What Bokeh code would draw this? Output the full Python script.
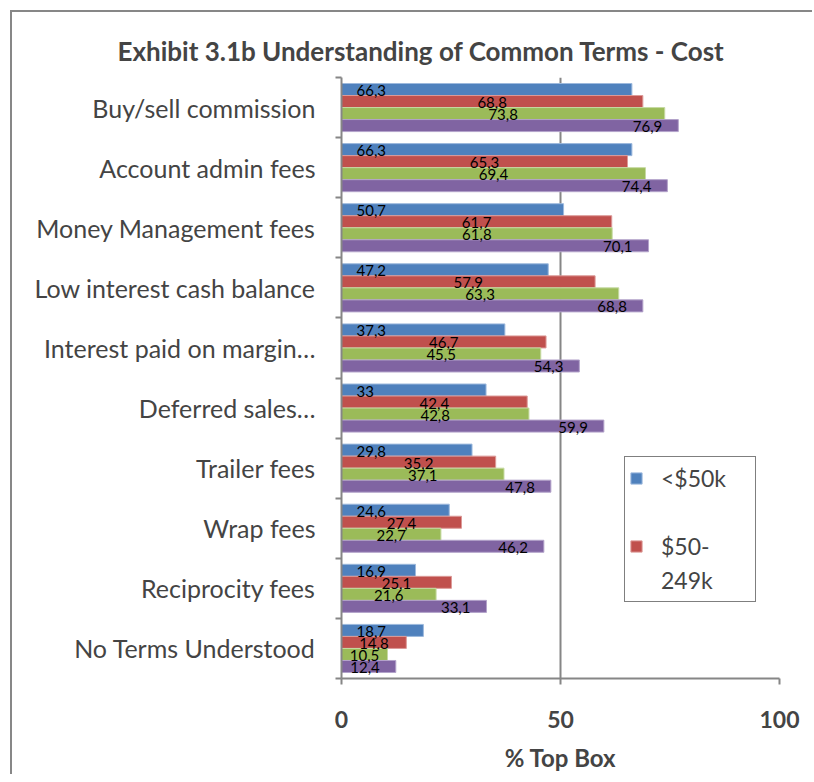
from bokeh.plotting import figure
from bokeh.models import ColumnDataSource, FixedTicker, Legend, LegendItem, LabelSet, Range1d
from bokeh.core.properties import value
from bokeh.embed import file_html
from bokeh.resources import INLINE

categories = ["Buy/sell commission", "Account admin fees", "Money Management fees",
              "Low interest cash balance", "Interest paid on margin…", "Deferred sales…",
              "Trailer fees", "Wrap fees", "Reciprocity fees", "No Terms Understood"]
series_names = ["<$50k", "$50-", "249k"]  # legend text as shown (wrapped, clipped legend)
s1 = [66.3, 66.3, 50.7, 47.2, 37.3, 33, 29.8, 24.6, 16.9, 18.7]
s2 = [68.8, 65.3, 61.7, 57.9, 46.7, 42.4, 35.2, 27.4, 25.1, 14.8]
s3 = [73.8, 69.4, 61.8, 63.3, 45.5, 42.8, 37.1, 22.7, 21.6, 10.5]
s4 = [76.9, 74.4, 70.1, 68.8, 54.3, 59.9, 47.8, 46.2, 33.1, 12.4]
x_ticks = [0, 50, 100]

colors = ["#4F81BD", "#C0504D", "#9BBB59", "#8064A2"]
edges = ["#9DB9DD", "#DC9A98", "#C6DAA2", "#B3A3CA"]
FONT = "Lato"
GRAY = "#868686"

n = len(categories)
centers = [n - i - 0.5 for i in range(n)]
bounds = list(range(n + 1))

p = figure(width=812, height=774, output_backend="svg", toolbar_location=None,
           x_range=Range1d(0, 100), y_range=Range1d(0, n),
           min_border_left=341, min_border_right=33, min_border_top=77, min_border_bottom=94)
p.outline_line_color = None
p.background_fill_color = "white"
p.border_fill_color = None
# outer chart-area frame: only its top and left edges are visible in the picture
p.styles = {"vertical-align": "top",
            "background":
            "linear-gradient(#878787, #878787) 10px 10px / 802px 2px no-repeat, "
            "linear-gradient(#878787, #878787) 10px 10px / 2px 764px no-repeat, white"}

p.title.text = "Exhibit 3.1b  Understanding of Common Terms - Cost"
p.title.text_font = FONT
p.title.text_font_size = "26px"
p.title.text_font_style = "bold"
p.title.align = "left"
p.title.offset = -224
p.title.standoff = 22

series = [s1, s2, s3, s4]
renderers = []
for j, vals in enumerate(series):
    ys = [c + 0.3 - 0.2 * j for c in centers]
    if j == 0:
        lx = [0 for v in vals]; align = "left"; xo = 15
    elif j == 3:
        lx = list(vals); align = "right"; xo = -16
    else:
        lx = [v / 2 for v in vals]; align = "center"; xo = 0
    src = ColumnDataSource(dict(y=ys, v=vals, lx=lx,
                                txt=[("%g" % v).replace(".", ",") for v in vals]))
    r = p.hbar(y="y", left=0, right="v", height=0.2, source=src,
               fill_color=colors[j], line_color=edges[j], line_width=1)
    renderers.append(r)
    p.add_layout(LabelSet(x="lx", y="y", text="txt", source=src, text_align=align,
                          text_baseline="middle", x_offset=xo, y_offset=-1,
                          text_font=value(FONT), text_font_size="15px", text_color="black"))

# invisible placeholder renderer used only for blank / wrapped legend rows
blank = p.hbar(y=[], left=[], right=[], height=0.2, fill_alpha=0, line_alpha=0)

# x axis
p.xaxis.ticker = FixedTicker(ticks=x_ticks)
p.xaxis.axis_line_color = GRAY
p.xaxis.axis_line_width = 2
p.xaxis.major_tick_line_color = GRAY
p.xaxis.major_tick_line_width = 2
p.xaxis.major_tick_out = 6
p.xaxis.major_tick_in = 0
p.xaxis.minor_tick_line_color = None
p.xaxis.major_label_text_font = FONT
p.xaxis.major_label_text_font_size = "23px"
p.xaxis.major_label_text_font_style = "bold"
p.xaxis.major_label_standoff = 26
p.xaxis.axis_label = "% Top Box"
p.xaxis.axis_label_text_font = FONT
p.xaxis.axis_label_text_font_size = "24px"
p.xaxis.axis_label_text_font_style = "bold"
p.xaxis.axis_label_standoff = 12

p.xgrid.ticker = FixedTicker(ticks=x_ticks)
p.xgrid.grid_line_color = GRAY
p.xgrid.grid_line_width = 2
p.ygrid.grid_line_color = None

# y axis
p.yaxis.ticker = FixedTicker(ticks=centers, minor_ticks=bounds)
p.yaxis.major_label_overrides = {c: categories[i] for i, c in enumerate(centers)}
p.yaxis.axis_line_color = GRAY
p.yaxis.axis_line_width = 2
p.yaxis.major_tick_line_color = None
p.yaxis.major_tick_out = 0
p.yaxis.major_tick_in = 0
p.yaxis.minor_tick_line_color = GRAY
p.yaxis.minor_tick_line_width = 2
p.yaxis.minor_tick_out = 6
p.yaxis.minor_tick_in = 0
p.yaxis.major_label_text_font = FONT
p.yaxis.major_label_text_font_size = "25px"
p.yaxis.major_label_standoff = 20

legend = Legend(items=[LegendItem(label=series_names[0], renderers=[renderers[0]]),
                       LegendItem(label=" ", renderers=[blank]),
                       LegendItem(label=series_names[1], renderers=[renderers[1]]),
                       LegendItem(label=series_names[2], renderers=[blank])],
                location=(283, 76))
legend.border_line_color = "black"
legend.border_line_width = 1.5
legend.label_text_font = FONT
legend.label_text_font_size = "23px"
legend.glyph_width = 14
legend.glyph_height = 14
legend.label_height = 34
legend.label_width = 90
legend.label_standoff = 18
legend.spacing = 0
legend.padding = 4
legend.margin = 0
legend.background_fill_alpha = 1
p.add_layout(legend, "center")

open("out.html", "w").write(file_html(p, INLINE))
